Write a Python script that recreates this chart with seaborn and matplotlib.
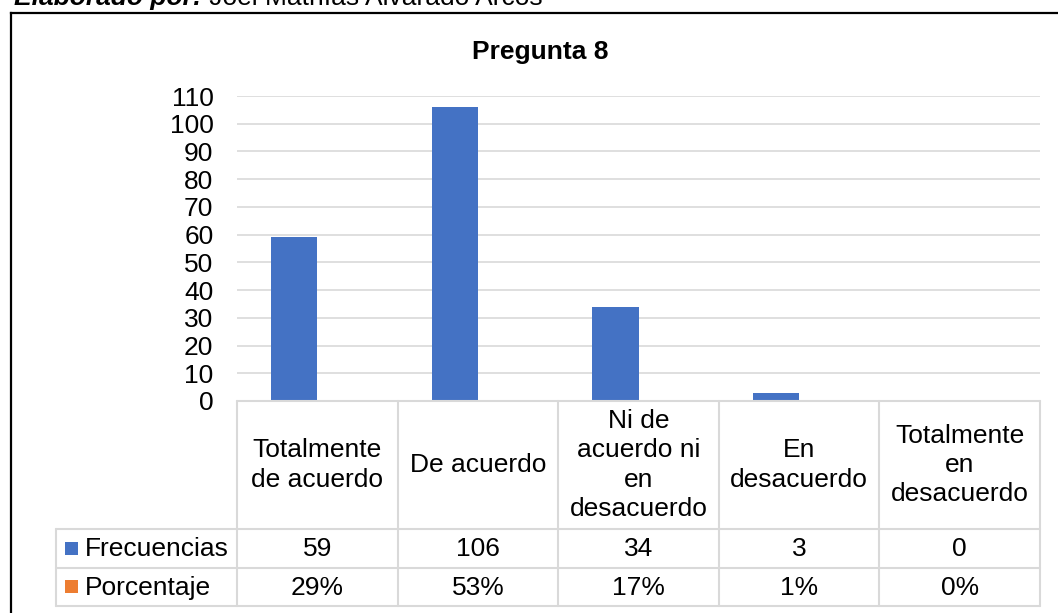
import matplotlib
matplotlib.use("Agg")
import matplotlib.pyplot as plt
import pandas as pd
import seaborn as sns
from matplotlib.patches import Rectangle

# ---- data ----
categorias = ["Totalmente\nde acuerdo", "De acuerdo", "Ni de\nacuerdo ni\nen\ndesacuerdo",
              "En\ndesacuerdo", "Totalmente\nen\ndesacuerdo"]
frecuencias = [59, 106, 34, 3, 0]
porcentajes = [0.29, 0.53, 0.17, 0.01, 0.0]
series = ["Frecuencias", "Porcentaje"]
colores = ["#4472C4", "#ED7D31"]
yticks = list(range(0, 111, 10))
titulo = "Pregunta 8"
autor_neg = "Elaborado por:"
autor = " Joel Mathías Alvarado Arcos"

sns.set_style("white")
plt.rcParams["font.family"] = ["Liberation Sans", "DejaVu Sans"]
plt.rcParams["text.color"] = "black"
plt.rcParams["ytick.color"] = "black"
plt.rcParams["ytick.labelcolor"] = "black"

W, H = 1058, 613
FS = 19
GRID = "#D9D9D9"

df = pd.DataFrame({
    "categoria": categorias * 2,
    "serie": [series[0]] * len(categorias) + [series[1]] * len(categorias),
    "valor": frecuencias + porcentajes,
})

fig = plt.figure(figsize=(W / 100, H / 100), dpi=100)
fig.patch.set_facecolor("white")

# plot area
ax = fig.add_axes([237 / W, (H - 401) / H, 803 / W, 305 / H])
sns.barplot(data=df, x="categoria", y="valor", hue="serie", order=categorias,
            hue_order=series, palette=colores, width=0.573, saturation=1,
            errorbar=None, linewidth=0, legend=False, ax=ax)
ax.set_xlim(-0.5, len(categorias) - 0.5)
ax.set_ylim(0, 110)
ax.set_yticks(yticks)
ax.set_yticklabels([str(v) for v in yticks], fontsize=FS, color="black")
ax.set_xticks([])
ax.tick_params(axis="y", length=0, pad=17)
ax.grid(axis="y", color=GRID, lw=1.2)
ax.set_axisbelow(True)
ax.set_xlabel("")
ax.set_ylabel("")
for s in ax.spines.values():
    s.set_visible(False)

# overlay in pixel coordinates for frame, title and data table
ov = fig.add_axes([0, 0, 1, 1])
ov.set_xlim(0, W)
ov.set_ylim(H, 0)
ov.axis("off")
ov.patch.set_alpha(0)

# outer frame
ov.plot([11, 11], [H, 13], color="black", lw=1.6, solid_capstyle="projecting")
ov.plot([11, W], [13, 13], color="black", lw=1.6, solid_capstyle="projecting")

# caption above the frame
t1 = ov.text(14, 5, autor_neg, fontsize=FS, fontweight="bold", fontstyle="italic",
             ha="left", va="baseline")
fig.canvas.draw()
bb = t1.get_window_extent()
ov.text(bb.x1, 5, autor, fontsize=FS, ha="left", va="baseline")

ov.text(540, 52, titulo, fontsize=FS, fontweight="bold", ha="center", va="center")

# table geometry from the axis scale
def px(xdata):
    return ax.transData.transform((xdata, 0))[0]

edges = [px(i - 0.5) for i in range(len(categorias) + 1)]
y_top, y_head, y_r1, y_r2 = 401, 529, 567.5, 606
x_left = 56
lw_t = 1.5

ov.plot([edges[0], edges[-1]], [y_top, y_top], color=GRID, lw=lw_t)
for yy in (y_head, y_r1, y_r2):
    ov.plot([x_left, edges[-1]], [yy, yy], color=GRID, lw=lw_t)
for xx in edges:
    ov.plot([xx, xx], [y_top, y_r2], color=GRID, lw=lw_t)
ov.plot([x_left, x_left], [y_head, y_r2], color=GRID, lw=lw_t)

for i, cat in enumerate(categorias):
    cx = (edges[i] + edges[i + 1]) / 2
    ov.text(cx, (y_top + y_head) / 2, cat, fontsize=FS, ha="center", va="center",
            linespacing=1.28, multialignment="center")
    ov.text(cx, (y_head + y_r1) / 2 + 1, f"{frecuencias[i]}", fontsize=FS,
            ha="center", va="center")
    ov.text(cx, (y_r1 + y_r2) / 2 + 1, f"{porcentajes[i]:.0%}", fontsize=FS,
            ha="center", va="center")

for yy0, yy1, nombre, col in ((y_head, y_r1, series[0], colores[0]),
                              (y_r1, y_r2, series[1], colores[1])):
    cy = (yy0 + yy1) / 2
    ov.add_patch(Rectangle((65, cy - 6.5), 13, 13, color=col, lw=0))
    ov.text(85, cy + 1, nombre, fontsize=FS, ha="left", va="center")

fig.savefig("out.png", dpi=100, facecolor="white")
